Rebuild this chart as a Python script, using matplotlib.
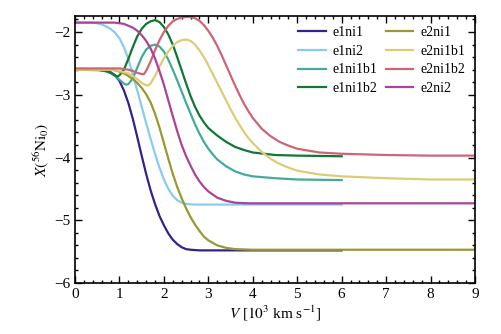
import matplotlib
matplotlib.use("Agg")
import matplotlib.pyplot as plt
from matplotlib.ticker import MultipleLocator

plt.rcParams['font.family'] = ['Liberation Serif', 'DejaVu Serif']
plt.rcParams['mathtext.fontset'] = 'stix'
plt.rcParams['font.size'] = 11

# ---- data ----
v_e1ni1 = [0, 0.5, 0.7, 0.8, 0.9, 1.0, 1.1, 1.2, 1.3, 1.4, 1.5, 1.6, 1.7, 1.8, 1.9, 2.0, 2.1, 2.2, 2.3, 2.4, 2.5, 2.6, 2.8, 6.0]
y_e1ni1 = [-2.6, -2.6, -2.62, -2.64, -2.69, -2.78, -2.93, -3.13, -3.38, -3.67, -3.97, -4.26, -4.52, -4.74, -4.93, -5.08, -5.21, -5.31, -5.38, -5.43, -5.46, -5.47, -5.48, -5.48]

v_e1ni2 = [0, 0.4, 0.5, 0.6, 0.7, 0.8, 0.9, 1.0, 1.1, 1.2, 1.3, 1.4, 1.5, 1.6, 1.7, 1.8, 1.9, 2.0, 2.1, 2.2, 2.3, 2.4, 2.5, 2.7, 6.0]
y_e1ni2 = [-1.85, -1.85, -1.86, -1.88, -1.91, -1.95, -2.01, -2.1, -2.24, -2.43, -2.67, -2.93, -3.19, -3.45, -3.7, -3.94, -4.16, -4.35, -4.5, -4.61, -4.68, -4.72, -4.74, -4.75, -4.75]

v_e1ni1b1 = [0, 0.6, 0.8, 0.9, 1.0, 1.1, 1.15, 1.2, 1.3, 1.4, 1.5, 1.6, 1.7, 1.8, 1.9, 2.0, 2.1, 2.2, 2.3, 2.4, 2.5, 2.6, 2.7, 2.8, 2.9, 3.0, 3.1, 3.2, 3.4, 3.6, 3.8, 4.0, 4.5, 5.0, 6.0]
y_e1ni1b1 = [-2.6, -2.61, -2.65, -2.7, -2.76, -2.82, -2.84, -2.83, -2.74, -2.57, -2.4, -2.28, -2.22, -2.2, -2.23, -2.31, -2.44, -2.6, -2.77, -2.95, -3.13, -3.3, -3.47, -3.62, -3.75, -3.86, -3.95, -4.03, -4.14, -4.22, -4.27, -4.3, -4.33, -4.35, -4.36]

v_e1ni1b2 = [0, 0.5, 0.7, 0.8, 0.9, 0.95, 1.0, 1.1, 1.2, 1.3, 1.4, 1.5, 1.6, 1.7, 1.8, 1.9, 2.0, 2.1, 2.2, 2.3, 2.4, 2.5, 2.6, 2.7, 2.8, 2.9, 3.0, 3.2, 3.4, 3.6, 3.8, 4.0, 4.5, 5.0, 6.0]
y_e1ni1b2 = [-2.6, -2.6, -2.62, -2.65, -2.69, -2.71, -2.69, -2.6, -2.43, -2.24, -2.07, -1.95, -1.87, -1.83, -1.81, -1.84, -1.92, -2.04, -2.2, -2.4, -2.61, -2.82, -3.02, -3.19, -3.33, -3.44, -3.53, -3.65, -3.75, -3.83, -3.88, -3.92, -3.96, -3.97, -3.98]

v_e2ni1 = [0, 0.8, 0.9, 1.0, 1.1, 1.2, 1.3, 1.4, 1.5, 1.6, 1.7, 1.8, 1.9, 2.0, 2.1, 2.2, 2.3, 2.4, 2.5, 2.6, 2.7, 2.8, 2.9, 3.0, 3.2, 3.4, 3.6, 4.0, 9.0]
y_e2ni1 = [-2.6, -2.6, -2.61, -2.63, -2.66, -2.7, -2.75, -2.81, -2.89, -2.99, -3.12, -3.3, -3.52, -3.77, -4.02, -4.26, -4.47, -4.65, -4.81, -4.95, -5.07, -5.17, -5.26, -5.32, -5.4, -5.44, -5.46, -5.47, -5.47]

v_e2ni1b1 = [0, 0.8, 1.0, 1.2, 1.3, 1.4, 1.5, 1.6, 1.65, 1.7, 1.8, 1.9, 2.0, 2.1, 2.2, 2.3, 2.4, 2.5, 2.6, 2.7, 2.8, 2.9, 3.0, 3.1, 3.2, 3.3, 3.4, 3.5, 3.6, 3.7, 3.8, 3.9, 4.0, 4.2, 4.4, 4.6, 4.8, 5.0, 5.5, 6.0, 7.0, 8.0, 9.0]
y_e2ni1b1 = [-2.6, -2.6, -2.62, -2.66, -2.7, -2.75, -2.81, -2.85, -2.85, -2.82, -2.7, -2.55, -2.42, -2.31, -2.22, -2.16, -2.13, -2.12, -2.14, -2.2, -2.29, -2.4, -2.53, -2.67, -2.81, -2.95, -3.09, -3.23, -3.36, -3.48, -3.59, -3.69, -3.77, -3.91, -4.02, -4.1, -4.16, -4.21, -4.27, -4.3, -4.33, -4.35, -4.35]

v_e2ni1b2 = [0, 1.0, 1.2, 1.3, 1.4, 1.5, 1.55, 1.6, 1.7, 1.8, 1.9, 2.0, 2.1, 2.2, 2.3, 2.4, 2.5, 2.6, 2.7, 2.8, 2.9, 3.0, 3.1, 3.2, 3.3, 3.4, 3.5, 3.6, 3.7, 3.8, 3.9, 4.0, 4.2, 4.4, 4.6, 4.8, 5.0, 5.5, 6.0, 7.0, 8.0, 9.0]
y_e2ni1b2 = [-2.58, -2.58, -2.6, -2.62, -2.65, -2.67, -2.67, -2.62, -2.47, -2.29, -2.13, -2.0, -1.9, -1.83, -1.79, -1.77, -1.76, -1.76, -1.78, -1.82, -1.89, -1.98, -2.09, -2.22, -2.37, -2.53, -2.69, -2.85, -3.0, -3.14, -3.26, -3.37, -3.54, -3.66, -3.75, -3.81, -3.86, -3.92, -3.94, -3.96, -3.97, -3.97]

v_e2ni2 = [0, 0.9, 1.0, 1.1, 1.2, 1.3, 1.4, 1.5, 1.6, 1.7, 1.8, 1.9, 2.0, 2.1, 2.2, 2.3, 2.4, 2.5, 2.6, 2.7, 2.8, 2.9, 3.0, 3.2, 3.4, 3.6, 3.9, 9.0]
y_e2ni2 = [-1.85, -1.85, -1.86, -1.87, -1.9, -1.93, -1.98, -2.05, -2.14, -2.26, -2.42, -2.62, -2.84, -3.09, -3.34, -3.58, -3.8, -3.98, -4.13, -4.27, -4.38, -4.47, -4.54, -4.64, -4.69, -4.72, -4.73, -4.73]

series = [
    ("e1ni1", v_e1ni1, y_e1ni1, "#332288"),
    ("e1ni2", v_e1ni2, y_e1ni2, "#88CCEE"),
    ("e1ni1b1", v_e1ni1b1, y_e1ni1b1, "#44AA99"),
    ("e1ni1b2", v_e1ni1b2, y_e1ni1b2, "#117733"),
    ("e2ni1", v_e2ni1, y_e2ni1, "#999933"),
    ("e2ni1b1", v_e2ni1b1, y_e2ni1b1, "#DDCC77"),
    ("e2ni1b2", v_e2ni1b2, y_e2ni1b2, "#CC6677"),
    ("e2ni2", v_e2ni2, y_e2ni2, "#AA4499"),
]

fig = plt.figure(figsize=(5.01, 3.34), dpi=100)
ax = fig.add_axes([0.1497, 0.1527, 0.7984, 0.7993])

for name, v, y, c in series:
    ax.plot(v, y, color=c, lw=1.6, label=name, solid_joinstyle='round')

ax.set_xlim(0, 9)
ax.set_ylim(-6, -1.745)
ax.xaxis.set_major_locator(MultipleLocator(1))
ax.xaxis.set_minor_locator(MultipleLocator(0.2))
ax.yaxis.set_major_locator(MultipleLocator(1))
ax.yaxis.set_minor_locator(MultipleLocator(0.2))
ax.tick_params(which='both', direction='in', top=True, right=True, width=1.0)
ax.tick_params(which='major', length=5)
ax.tick_params(which='minor', length=2.5)
for s in ax.spines.values():
    s.set_linewidth(1.2)

ax.set_xlabel(r"$V$ [$10^3$ km s$^{-1}$]", labelpad=2)
ax.set_ylabel(r"$X(^{56}\mathrm{Ni}_0)$", labelpad=2)

ax.legend(ncol=2, loc='upper right', frameon=False, fontsize=10,
          handlelength=2.0, columnspacing=0.6, handletextpad=0.5,
          labelspacing=0.42, borderaxespad=0.3)

fig.savefig("out.png", dpi=100)
